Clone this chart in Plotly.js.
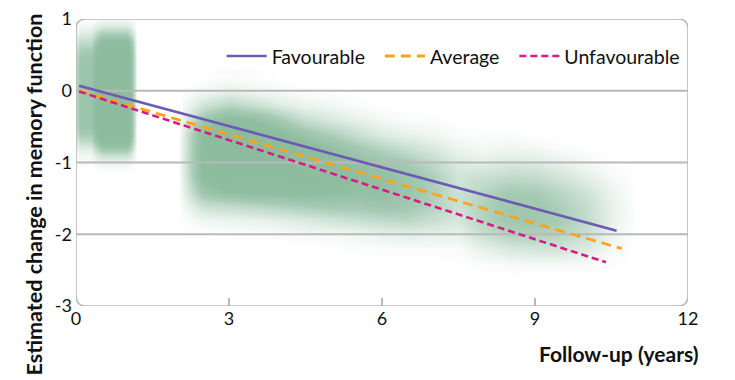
<!DOCTYPE html>
<html>
<head>
<meta charset="utf-8">
<script src="https://cdn.plot.ly/plotly-3.0.1.min.js"></script>
<style>html,body{margin:0;padding:0;background:#fff;}#chart{width:735px;height:380px;}</style>
</head>
<body>
<div id="chart"></div>
<script>
// ---- Regression lines ----
var favX = [0.06, 10.6];
var favY = [0.07, -1.95];
var avgX = [0.06, 10.7];
var avgY = [0.0, -2.2];
var unfX = [0.06, 10.39];
var unfY = [-0.01, -2.39];
var seriesNames = ['Favourable', 'Average', 'Unfavourable'];

// ---- Axis ticks ----
var xTicks = [0, 3, 6, 9, 12];
var xInnerTicks = [3, 6, 9];
var yTicks = [1, 0, -1, -2, -3];
var yGrid = [0, -1, -2];

// ---- Point-cloud density, baseline visit ----
var baseX = [-0.1, 0, 0.1, 0.2, 0.3, 0.4, 0.5, 0.6, 0.7, 0.8, 0.9, 1.0, 1.1, 1.2];
var baseY = [-1.1, -1.0, -0.9, -0.8, -0.7, -0.6, -0.5, -0.4, -0.3, -0.2, -0.1,
             0, 0.1, 0.2, 0.3, 0.4, 0.5, 0.6, 0.7, 0.8, 0.9, 1.0];
var baseLeftProfile  = [0, 0.03, 0.08, 0.18, 0.35, 0.5, 0.6, 0.62, 0.62, 0.62, 0.62,
                        0.62, 0.62, 0.62, 0.62, 0.6, 0.55, 0.45, 0.32, 0.18, 0.07, 0.01];
var baseRightProfile = [0.02, 0.1, 0.3, 0.6, 0.85, 0.95, 1, 1, 1, 1, 1,
                        1, 1, 1, 1, 1, 1, 0.92, 0.78, 0.45, 0.2, 0.05];
var baseLeftWeight  = [0, 0.6, 1, 1, 1, 0.5, 0, 0, 0, 0, 0, 0, 0, 0];
var baseRightWeight = [0, 0, 0, 0, 0, 0.5, 1, 1, 1, 1, 1, 1, 0.6, 0];
var baseDensity = baseY.map(function (_, j) {
  return baseX.map(function (_, i) {
    return baseLeftWeight[i] * baseLeftProfile[j] + baseRightWeight[i] * baseRightProfile[j];
  });
});

// ---- Point-cloud density, follow-up visits: one profile per x column ----
var fuX = [2, 2.5, 3, 3.5, 4, 4.5, 5, 5.5, 6, 6.5, 7, 7.5, 8, 8.5, 9, 9.5, 10, 10.5, 11];
var fuY = [0.2, 0, -0.2, -0.4, -0.6, -0.8, -1, -1.2, -1.4, -1.6, -1.8, -2, -2.2, -2.4, -2.6];
var fuColumns = [
  [0,0,0,0,0,0,0,0,0,0,0,0,0,0,0],
  [0,0.06,0.25,0.55,0.8,0.85,0.85,0.8,0.6,0.3,0.08,0,0,0,0],
  [0.03,0.12,0.4,0.8,0.95,1,1,0.95,0.75,0.35,0.1,0.02,0,0,0],
  [0.02,0.08,0.3,0.7,0.95,1,1,0.95,0.8,0.4,0.12,0.02,0,0,0],
  [0,0.04,0.18,0.5,0.8,0.95,0.95,0.95,0.8,0.45,0.15,0.03,0,0,0],
  [0,0.02,0.1,0.3,0.6,0.85,0.9,0.9,0.8,0.5,0.2,0.05,0,0,0],
  [0,0.01,0.07,0.2,0.45,0.7,0.8,0.8,0.75,0.55,0.25,0.06,0.01,0,0],
  [0,0,0.03,0.12,0.3,0.55,0.7,0.75,0.7,0.55,0.3,0.08,0.02,0,0],
  [0,0,0.01,0.06,0.18,0.4,0.6,0.7,0.7,0.6,0.35,0.12,0.03,0,0],
  [0,0,0,0.03,0.12,0.3,0.5,0.6,0.6,0.55,0.38,0.15,0.04,0,0],
  [0,0,0,0.02,0.08,0.2,0.35,0.45,0.45,0.42,0.3,0.13,0.04,0,0],
  [0,0,0,0,0.03,0.1,0.18,0.25,0.28,0.28,0.22,0.12,0.04,0.01,0],
  [0,0,0,0,0.02,0.06,0.15,0.3,0.4,0.45,0.42,0.3,0.14,0.03,0],
  [0,0,0,0,0.02,0.08,0.2,0.35,0.5,0.55,0.55,0.42,0.22,0.05,0],
  [0,0,0,0,0.01,0.06,0.18,0.33,0.48,0.55,0.55,0.45,0.25,0.06,0],
  [0,0,0,0,0,0.03,0.12,0.25,0.38,0.45,0.48,0.4,0.25,0.06,0],
  [0,0,0,0,0,0.01,0.06,0.15,0.25,0.32,0.35,0.3,0.18,0.05,0],
  [0,0,0,0,0,0,0.01,0.05,0.1,0.13,0.13,0.1,0.06,0.02,0],
  [0,0,0,0,0,0,0,0,0,0,0,0,0,0,0]
];

// transpose columns -> rows for the heatmap
var fuDensity = fuY.map(function (_, j) {
  return fuColumns.map(function (col) { return col[j]; });
});

var cloudScale = [
  [0, 'rgba(143,189,160,0)'],
  [0.15, 'rgba(143,189,160,0.25)'],
  [0.5, 'rgba(143,189,160,0.8)'],
  [0.75, 'rgba(143,189,160,1)'],
  [1, 'rgba(140,187,157,1)']
];
var font = 'Lato, "Open Sans", sans-serif';
var pad = '\u00a0\u00a0';

var traces = [];
traces.push({
  type: 'heatmap', x: baseX, y: baseY, z: baseDensity, zmin: 0, zmax: 1,
  zsmooth: 'best', colorscale: cloudScale, showscale: false, hoverinfo: 'skip', showlegend: false
});
traces.push({
  type: 'heatmap', x: fuX, y: fuY, z: fuDensity, zmin: 0, zmax: 1,
  zsmooth: 'best', colorscale: cloudScale, showscale: false, hoverinfo: 'skip', showlegend: false
});
// gridlines drawn above the cloud, below the regression lines
yGrid.forEach(function (g) {
  traces.push({
    type: 'scatter', mode: 'lines',
    x: [xTicks[0], xTicks[xTicks.length - 1]], y: [g, g],
    line: {color: '#b9b9b9', width: 2}, hoverinfo: 'skip', showlegend: false
  });
});
traces.push({
  type: 'scatter', mode: 'lines', name: seriesNames[0] + pad, x: favX, y: favY,
  line: {color: '#6b5bb2', width: 2.6}
});
traces.push({
  type: 'scatter', mode: 'lines', name: seriesNames[1] + pad, x: avgX, y: avgY,
  line: {color: '#f8a51c', width: 2.8, dash: '10px,6px'}
});
traces.push({
  type: 'scatter', mode: 'lines', name: seriesNames[2], x: unfX, y: unfY,
  line: {color: '#d81b85', width: 2.6, dash: '7px,4px'}
});
// carrier for inner tick marks on bottom axis
traces.push({
  type: 'scatter', mode: 'lines', x: [], y: [], xaxis: 'x2', yaxis: 'y',
  hoverinfo: 'skip', showlegend: false
});

var rx = 0.2, ry = 0.14;
var x0 = 0, x1 = 12, y0 = -3, y1 = 1;
var framePath = 'M ' + (x0 + rx) + ',' + y1 + ' L ' + (x1 - rx) + ',' + y1 +
  ' Q ' + x1 + ',' + y1 + ' ' + x1 + ',' + (y1 - ry) +
  ' L ' + x1 + ',' + (y0 + ry) + ' Q ' + x1 + ',' + y0 + ' ' + (x1 - rx) + ',' + y0 +
  ' L ' + (x0 + rx) + ',' + y0 + ' Q ' + x0 + ',' + y0 + ' ' + x0 + ',' + (y0 + ry) +
  ' L ' + x0 + ',' + (y1 - ry) + ' Q ' + x0 + ',' + y1 + ' ' + (x0 + rx) + ',' + y1 + ' Z';

var layout = {
  width: 735, height: 380,
  margin: {l: 76, r: 47, t: 19, b: 74},
  paper_bgcolor: '#ffffff', plot_bgcolor: 'rgba(0,0,0,0)',
  font: {family: font, size: 18, color: '#111'},
  showlegend: true,
  legend: {
    orientation: 'h', x: 0.238, y: 0.87, xanchor: 'left', yanchor: 'middle',
    bgcolor: 'rgba(0,0,0,0)', font: {family: font, size: 19.5, color: '#111'},
    itemwidth: 40, traceorder: 'normal'
  },
  xaxis: {
    range: [0, 12], tickvals: xTicks, ticktext: xTicks.map(String),
    ticks: '', showgrid: false, zeroline: false, showline: false,
    tickfont: {family: font, size: 18, color: '#111'}, fixedrange: true
  },
  xaxis2: {
    range: [0, 12], overlaying: 'x', anchor: 'y', side: 'bottom',
    tickvals: xInnerTicks, ticks: 'inside', ticklen: 8, tickwidth: 1.5, tickcolor: '#b9b9b9',
    showticklabels: false, showgrid: false, zeroline: false, showline: false
  },
  yaxis: {
    range: [-3, 1], tickvals: yTicks, ticktext: yTicks.map(String),
    ticks: '', showgrid: false, zeroline: false, showline: false, ticklabelstandoff: 3,
    tickfont: {family: font, size: 18, color: '#111'}, fixedrange: true
  },
  shapes: [{
    type: 'path', xref: 'x', yref: 'y', path: framePath,
    line: {color: '#b9b9b9', width: 1.6}, layer: 'above'
  }],
  annotations: [
    {
      text: '<b>Estimated change in memory function</b>', xref: 'paper', yref: 'paper',
      x: -0.068, y: 0.39, xanchor: 'center', yanchor: 'middle', textangle: -90,
      showarrow: false, font: {family: font, size: 21.5, color: '#111'}
    },
    {
      text: '<b>Follow-up (years)</b>', xref: 'paper', yref: 'paper',
      x: 1.021, y: -0.164, xanchor: 'right', yanchor: 'middle',
      showarrow: false, font: {family: font, size: 21, color: '#111'}
    }
  ]
};

Plotly.newPlot('chart', traces, layout, {displayModeBar: false, staticPlot: true});
</script>
</body>
</html>
